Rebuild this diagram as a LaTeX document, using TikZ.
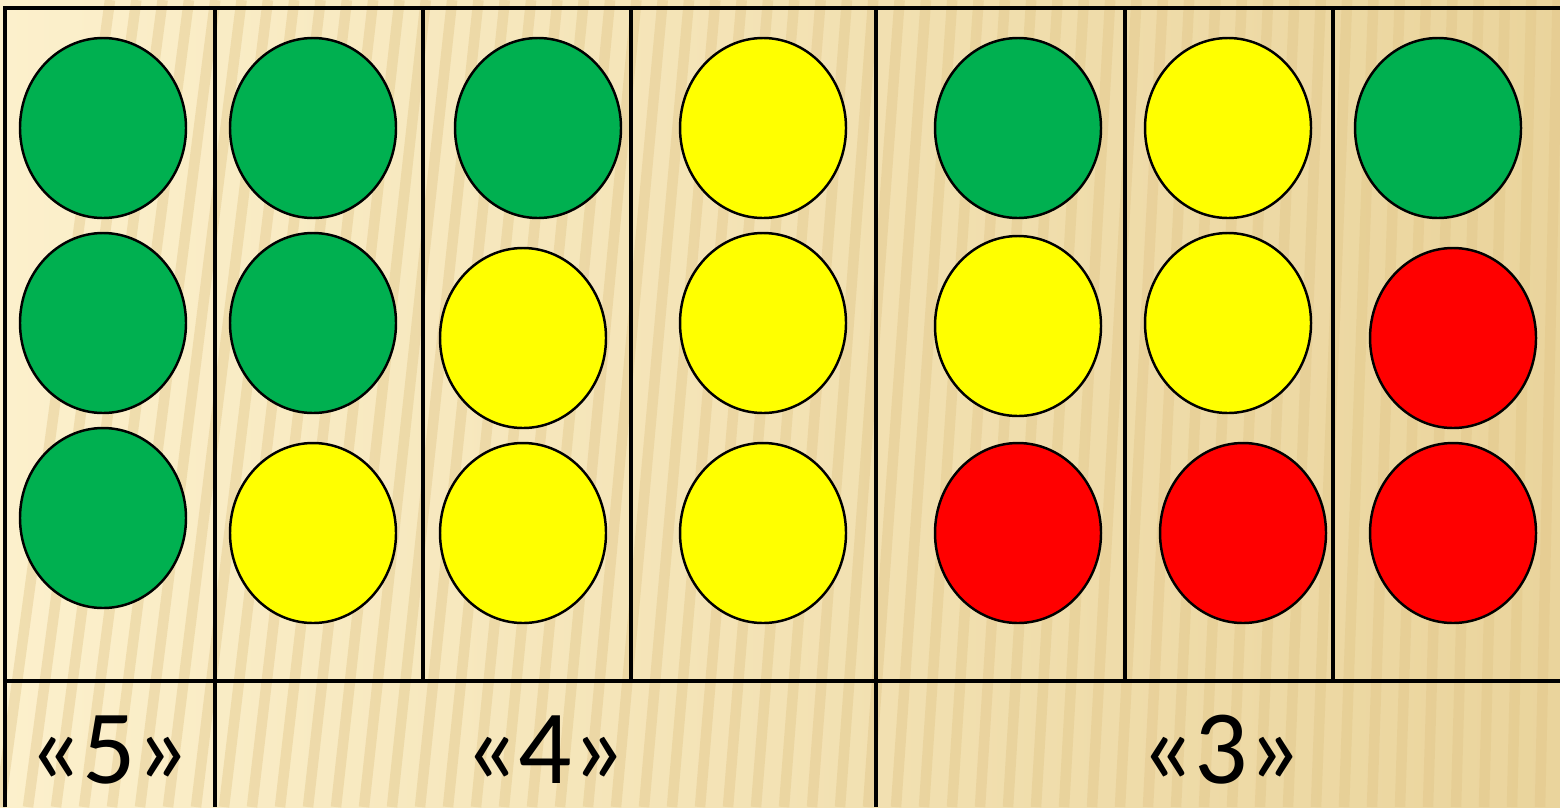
\documentclass[tikz,border=0pt]{standalone}
\usepackage{fontspec}
\setmainfont{Carlito}
\usepackage{tikz}
\usetikzlibrary{shapes.geometric}
\definecolor{paperlight}{RGB}{252,240,204}
\definecolor{paperdark}{RGB}{234,212,156}
\definecolor{stripetan}{RGB}{224,196,134}
\definecolor{dotgreen}{RGB}{0,176,80}
\definecolor{dotyellow}{RGB}{255,255,0}
\definecolor{dotred}{RGB}{255,0,0}
\tikzset{
  rule/.style={black, line width=1.1pt},
  stripe/.style={stripetan, line width=3pt, opacity=0.4},
  dot/.style={ellipse, draw=black, line width=0.7pt,
              minimum width=16.6mm, minimum height=18mm, inner sep=0pt},
  grade/.style={font=\fontsize{30}{36}\selectfont, anchor=base, inner sep=0pt},
}

\begin{document}
\begin{tikzpicture}[x=1cm,y=1cm]
  \path[use as bounding box] (0,0) rectangle (15.6,8.07);
  \shade[left color=paperlight, right color=paperdark] (0,0) rectangle (15.6,8.07);
  \foreach \s in {0,0.28,...,15.6}
    {\draw[stripe] (\s,0) -- (\s+1.1-0.06*\s,8.07);}

  % grid
  \draw[rule] (0.05,0) -- (0.05,7.99) -- (15.6,7.99);
  \draw[rule] (0.05,1.26) -- (15.6,1.26);
  \foreach \x in {2.15,8.76}
    {\draw[rule] (\x,0) -- (\x,7.99);}
  \foreach \x in {4.23,6.31,11.25,13.33}
    {\draw[rule] (\x,1.26) -- (\x,7.99);}

  % counters
  \foreach \x/\y/\fillcol [count=\i] in {
      1.03/6.79/dotgreen, 1.03/4.84/dotgreen, 1.03/2.89/dotgreen,
      3.13/6.79/dotgreen, 3.13/4.84/dotgreen, 3.13/2.74/dotyellow,
      5.38/6.79/dotgreen, 5.23/4.69/dotyellow, 5.23/2.74/dotyellow,
      7.63/6.79/dotyellow, 7.63/4.84/dotyellow, 7.63/2.74/dotyellow,
      10.18/6.79/dotgreen, 10.18/4.81/dotyellow, 10.18/2.74/dotred,
      12.28/6.79/dotyellow, 12.28/4.84/dotyellow, 12.43/2.74/dotred,
      14.38/6.79/dotgreen, 14.53/4.69/dotred, 14.53/2.74/dotred}
    {\node[dot, fill=\fillcol] (dot\i) at (\x,\y) {};}

  \node[grade] (mark5) at (1.09,0.24) {«5»};
  \node[grade] (mark4) at (5.45,0.24) {«4»};
  \node[grade] (mark3) at (12.21,0.24) {«3»};
\end{tikzpicture}
\end{document}
